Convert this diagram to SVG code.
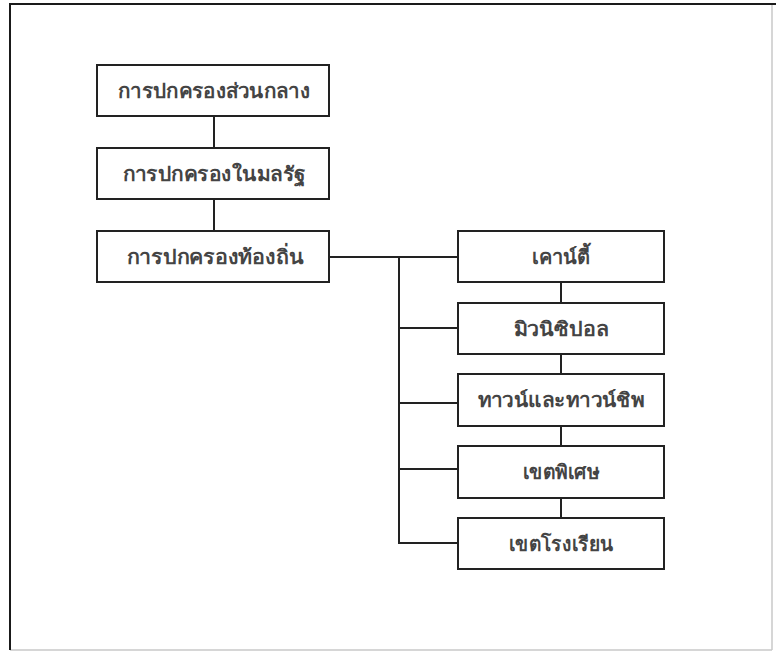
<svg xmlns="http://www.w3.org/2000/svg" width="776" height="652" viewBox="0 0 776 652">
  <style>
    .frame-dark { stroke: #1a1a1a; stroke-width: 2; fill: none; }
    .frame-light { stroke: #c8c8c8; stroke-width: 1.5; fill: none; }
    .box { fill: #ffffff; stroke: #222222; stroke-width: 2; }
    .link { stroke: #222222; stroke-width: 2; fill: none; }
    .label { font-family: "Liberation Serif", "Noto Sans", serif; font-size: 20px; font-weight: bold; fill: #444444; text-anchor: middle; dominant-baseline: central; }
  </style>
  <rect width="776" height="652" fill="#ffffff"/>
  <!-- page frame -->
  <line class="frame-light" x1="772" y1="4" x2="772" y2="650"/>
  <line class="frame-light" x1="10" y1="650" x2="772" y2="650"/>
  <polyline class="frame-dark" points="10,650 10,4 776,4"/>

  <g id="connectors">
    <line class="link" x1="214" y1="116" x2="214" y2="148"/>
    <line class="link" x1="214" y1="199" x2="214" y2="231"/>
    <line class="link" x1="329" y1="257" x2="458" y2="257"/>
    <line class="link" x1="399" y1="257" x2="399" y2="543"/>
    <line class="link" x1="399" y1="328" x2="458" y2="328"/>
    <line class="link" x1="399" y1="403" x2="458" y2="403"/>
    <line class="link" x1="399" y1="469" x2="458" y2="469"/>
    <line class="link" x1="398" y1="543" x2="458" y2="543"/>
    <line class="link" x1="561" y1="282" x2="561" y2="303"/>
    <line class="link" x1="561" y1="354" x2="561" y2="374"/>
    <line class="link" x1="561" y1="426" x2="561" y2="446"/>
    <line class="link" x1="561" y1="498" x2="561" y2="518"/>
  </g>

  <g id="central">
    <rect class="box" x="97" y="65" width="232" height="51"/>
    <text class="label" x="214" y="90.5" textLength="192" lengthAdjust="spacingAndGlyphs">การปกครองส่วนกลาง</text>
  </g>
  <g id="state">
    <rect class="box" x="97" y="148" width="232" height="51"/>
    <text class="label" x="214" y="173.5" textLength="183" lengthAdjust="spacingAndGlyphs">การปกครองในมลรัฐ</text>
  </g>
  <g id="local">
    <rect class="box" x="97" y="231" width="232" height="51"/>
    <text class="label" x="215" y="256.5" textLength="177" lengthAdjust="spacingAndGlyphs">การปกครองท้องถิ่น</text>
  </g>
  <g id="county">
    <rect class="box" x="458" y="231" width="206" height="51"/>
    <text class="label" x="561" y="256.5" textLength="58" lengthAdjust="spacingAndGlyphs">เคาน์ตี้</text>
  </g>
  <g id="municipal">
    <rect class="box" x="458" y="303" width="206" height="51"/>
    <text class="label" x="561" y="328.5" textLength="95" lengthAdjust="spacingAndGlyphs">มิวนิซิปอล</text>
  </g>
  <g id="township">
    <rect class="box" x="458" y="374" width="206" height="52"/>
    <text class="label" x="561" y="400" textLength="167" lengthAdjust="spacingAndGlyphs">ทาวน์และทาวน์ชิพ</text>
  </g>
  <g id="special">
    <rect class="box" x="458" y="446" width="206" height="52"/>
    <text class="label" x="561" y="472" textLength="77" lengthAdjust="spacingAndGlyphs">เขตพิเศษ</text>
  </g>
  <g id="school">
    <rect class="box" x="458" y="518" width="206" height="51"/>
    <text class="label" x="561" y="543.5" textLength="105" lengthAdjust="spacingAndGlyphs">เขตโรงเรียน</text>
  </g>
</svg>
